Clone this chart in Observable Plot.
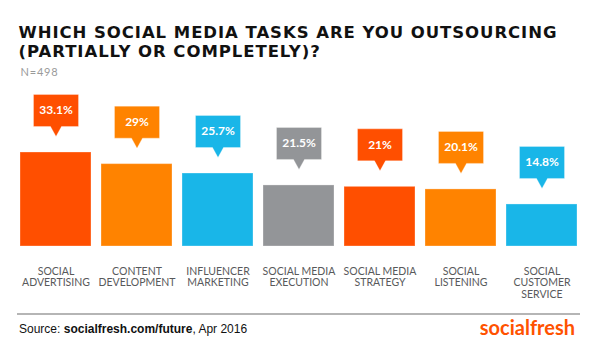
<!DOCTYPE html>
<html>
<head>
<meta charset="utf-8">
<script src="https://cdn.jsdelivr.net/npm/d3@7"></script>
<script src="https://cdn.jsdelivr.net/npm/@observablehq/plot@0.6"></script>
<style>
  html, body { margin: 0; padding: 0; background: #fff; }
  #wrap { position: relative; width: 600px; height: 361px; overflow: hidden; }
  .tl { position: absolute; left: 18.5px; font-family: "DejaVu Sans", sans-serif; font-weight: 700; font-size: 16.5px; line-height: 16.5px; height: 16.5px; color: #111; white-space: nowrap; }
  #t1 { top: 24.8px; }
  #t2 { top: 44.1px; }
  #sub { position: absolute; left: 20.5px; top: 66px; font-family: Lato, sans-serif; font-weight: 400; font-size: 11px; line-height: 11px; color: #9a9a9a; letter-spacing: 0.8px; }
  #chart { position: absolute; left: 0; top: 85px; }
  #rule { position: absolute; left: 17px; top: 313px; width: 563px; height: 2px; background: #b5b5b5; }
  #source { position: absolute; left: 19px; top: 323px; font-family: "Liberation Sans", Arial, sans-serif; font-size: 12px; line-height: 12px; color: #111; white-space: nowrap; }
  #logo { position: absolute; right: 25px; top: 318px; font-family: Lato, sans-serif; font-weight: 700; font-size: 20px; line-height: 19px; color: #ff5200; }
</style>
</head>
<body>
<div id="wrap">
  <div class="tl" id="t1"><span id="t1s">WHICH SOCIAL MEDIA TASKS ARE YOU OUTSOURCING</span></div>
  <div class="tl" id="t2">(PARTIALLY OR COMPLETELY)?</div>
  <div id="sub">N=498</div>
  <div id="chart"></div>
  <div id="rule"></div>
  <div id="source">Source: <b>socialfresh.com/future</b>, Apr 2016</div>
  <div id="logo">socialfresh</div>
</div>
<script>
const tasks = ["Social Advertising", "Content Development", "Influencer Marketing", "Social Media Execution", "Social Media Strategy", "Social Listening", "Social Customer Service"];
const labels = ["SOCIAL\nADVERTISING", "CONTENT\nDEVELOPMENT", "INFLUENCER\nMARKETING", "SOCIAL MEDIA\nEXECUTION", "SOCIAL MEDIA\nSTRATEGY", "SOCIAL\nLISTENING", "SOCIAL\nCUSTOMER\nSERVICE"];
const values = [33.1, 29, 25.7, 21.5, 21, 20.1, 14.8];
const colors = ["#ff4f00", "#ff8300", "#19b6e8", "#939598", "#ff4f00", "#ff8300", "#19b6e8"];

const data = tasks.map((t, i) => ({task: t, label: labels[i], value: values[i], color: colors[i]}));

// fit title line width to the reference span
(function fitTitle() {
  const el = document.getElementById("t1s");
  const target = 538;
  const w = el.getBoundingClientRect().width;
  const n = el.textContent.length - 1;
  const ls = (target - w) / n;
  document.querySelectorAll(".tl").forEach(e => e.style.letterSpacing = ls + "px");
})();

const callout = {
  draw(context) {
    const hw = 22.5, top = -58, bot = -26, tip = -16, pw = 5.5;
    context.moveTo(-hw, top);
    context.lineTo(hw, top);
    context.lineTo(hw, bot);
    context.lineTo(pw, bot);
    context.lineTo(0, tip);
    context.lineTo(-pw, bot);
    context.lineTo(-hw, bot);
    context.closePath();
  }
};

const chart = Plot.plot({
  width: 600,
  height: 225,
  marginLeft: 7.6,
  marginRight: 11.6,
  marginTop: 47.4,
  marginBottom: 64,
  style: {background: "transparent", fontFamily: "Lato, sans-serif"},
  x: {domain: tasks, padding: 0.124, axis: null},
  y: {domain: [0, 40], axis: null},
  color: {type: "identity"},
  marks: [
    Plot.barY(data, {x: "task", y: "value", fill: "color", stroke: "white", strokeOpacity: 0.3, strokeWidth: 1}),
    Plot.dot(data, {x: "task", y: "value", symbol: callout, fill: "color", stroke: "white", strokeOpacity: 0.3, strokeWidth: 1}),
    Plot.text(data, {x: "task", y: "value", text: d => d.value + "%", dy: -42, fill: "white", fontWeight: 700, fontSize: 12, fontFamily: "Lato, sans-serif"}),
    Plot.text(data, {x: "task", text: "label", frameAnchor: "bottom", lineAnchor: "top", dy: 20.8, lineHeight: 1.067, fontSize: 10.5, fill: "#58595b", fontFamily: "Lato, sans-serif", style: "letter-spacing:0.6px"})
  ]
});
document.getElementById("chart").appendChild(chart);
</script>
</body>
</html>
